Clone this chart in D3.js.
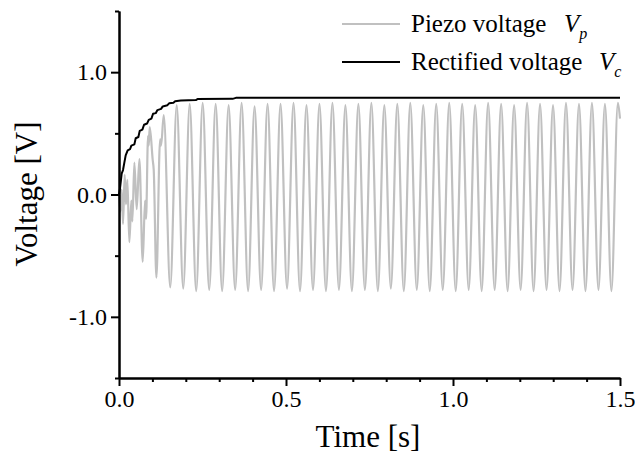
<!DOCTYPE html>
<html>
<head>
<meta charset="utf-8">
<script src="https://cdn.jsdelivr.net/npm/d3@7"></script>
<style>
  html, body { margin: 0; padding: 0; background: #fff; }
  svg { display: block; }
  text { font-family: "Liberation Serif", "Times New Roman", serif; fill: #000; }
</style>
</head>
<body>
<svg id="chart" width="635" height="457"></svg>
<script>
// ---- data ----
const timeTicksMajor = [0.0, 0.5, 1.0, 1.5];
const timeTicksMinor = [0.1, 0.2, 0.3, 0.4, 0.6, 0.7, 0.8, 0.9, 1.1, 1.2, 1.3, 1.4];
const voltTicksMajor = [-1.0, 0.0, 1.0];
const voltTicksMinor = [-1.5, -0.5, 0.5, 1.5];

// Piezo voltage Vp: time [s] and value [V] at its turning points
const piezoTime = [
  0.000, 0.004, 0.008, 0.012, 0.017, 0.021, 0.025, 0.031, 0.037, 0.040,
  0.046, 0.053, 0.061, 0.071, 0.078, 0.081, 0.087, 0.089, 0.092, 0.101,
  0.104, 0.112, 0.123, 0.126, 0.134, 0.1534, 0.1728,
  0.1923, 0.2117, 0.2311, 0.2505, 0.2700, 0.2894, 0.3088, 0.3282, 0.3477, 0.3671,
  0.3865, 0.4059, 0.4254, 0.4448, 0.4642, 0.4836, 0.5031, 0.5225, 0.5419, 0.5613,
  0.5808, 0.6002, 0.6196, 0.6390, 0.6585, 0.6779, 0.6973, 0.7167, 0.7362, 0.7556,
  0.7750, 0.7944, 0.8139, 0.8333, 0.8527, 0.8721, 0.8916, 0.9110, 0.9304, 0.9498,
  0.9693, 0.9887, 1.0081, 1.0275, 1.0470, 1.0664, 1.0858, 1.1052, 1.1247, 1.1441,
  1.1635, 1.1829, 1.2024, 1.2218, 1.2412, 1.2606, 1.2801, 1.2995, 1.3189, 1.3383,
  1.3578, 1.3772, 1.3966, 1.4160, 1.4355, 1.4549, 1.4743, 1.4937, 1.5000
];
const piezoVolt = [
  0.00, -0.14, 0.04, -0.24, 0.16, -0.08, 0.12, -0.39, -0.05, -0.22,
  0.26, -0.12, 0.29, -0.55, -0.05, -0.20, 0.48, 0.40, 0.55, 0.28,
  0.20, -0.68, 0.45, 0.40, 0.65, -0.76, 0.73,
  -0.77, 0.74, -0.79, 0.75, -0.78, 0.74, -0.79, 0.73, -0.78, 0.75,
  -0.79, 0.72, -0.78, 0.74, -0.79, 0.74, -0.77, 0.75, -0.79, 0.73,
  -0.78, 0.74, -0.79, 0.75, -0.78, 0.73, -0.79, 0.74, -0.78, 0.75,
  -0.79, 0.73, -0.77, 0.74, -0.79, 0.75, -0.78, 0.73, -0.79, 0.74,
  -0.78, 0.75, -0.79, 0.74, -0.78, 0.73, -0.79, 0.75, -0.78, 0.74,
  -0.79, 0.73, -0.78, 0.75, -0.79, 0.74, -0.78, 0.73, -0.79, 0.75,
  -0.78, 0.74, -0.79, 0.75, -0.78, 0.74, -0.79, 0.75, 0.62
];

// Rectified voltage Vc: staircase charging curve
const rectTime = [
  0.000, 0.003, 0.008, 0.012, 0.016, 0.020, 0.026, 0.033, 0.037, 0.046,
  0.050, 0.058, 0.062, 0.070, 0.075, 0.084, 0.089, 0.097, 0.102, 0.110,
  0.115, 0.126, 0.131, 0.145, 0.150, 0.163, 0.168, 0.185, 0.230, 0.235,
  0.340, 0.350, 1.500
];
const rectVolt = [
  0.00, 0.05, 0.17, 0.20, 0.26, 0.32, 0.36, 0.37, 0.40, 0.41,
  0.46, 0.47, 0.52, 0.53, 0.57, 0.58, 0.61, 0.62, 0.66, 0.665,
  0.69, 0.70, 0.72, 0.73, 0.745, 0.75, 0.762, 0.768, 0.772, 0.78,
  0.782, 0.79, 0.79
];

const legendLabels = ["Piezo voltage", "Rectified voltage"];
const legendSymbols = ["p", "c"];

// ---- layout ----
const svg = d3.select("#chart");
const x = d3.scaleLinear().domain([0, 1.5]).range([119, 620]);
const y = d3.scaleLinear().domain([-1.5, 1.5]).range([378, 11]);
const fmt = d => d.toFixed(1);
const serif = "'Liberation Serif', 'Times New Roman', serif";

const piezo = piezoTime.map((t, i) => [t, piezoVolt[i]]);
const rect = rectTime.map((t, i) => [t, rectVolt[i]]);

svg.append("path")
  .attr("d", d3.line().x(d => x(d[0])).y(d => y(d[1])).curve(d3.curveMonotoneX)(piezo))
  .attr("fill", "none").attr("stroke", "#c0c0c0").attr("stroke-width", 2.2)
  .attr("stroke-linejoin", "round");

svg.append("path")
  .attr("d", d3.line().x(d => x(d[0])).y(d => y(d[1]))(rect))
  .attr("fill", "none").attr("stroke", "#000").attr("stroke-width", 2)
  .attr("stroke-linejoin", "round");

// axes
function styleAxis(g) {
  g.attr("font-family", serif).attr("font-size", 24);
  g.select(".domain").attr("stroke", "#000").attr("stroke-width", 2);
  g.selectAll(".tick line").attr("stroke", "#000").attr("stroke-width", 2);
  g.selectAll(".tick text").style("font-family", serif).style("font-size", "24px").attr("fill", "#000");
}

svg.append("g").attr("transform", `translate(0,${y(-1.5)})`)
  .call(d3.axisBottom(x).tickValues(timeTicksMinor).tickSize(4).tickSizeOuter(0).tickFormat(""))
  .call(styleAxis);
svg.append("g").attr("transform", `translate(0,${y(-1.5)})`)
  .call(d3.axisBottom(x).tickValues(timeTicksMajor).tickSize(8).tickSizeOuter(0).tickPadding(4).tickFormat(fmt))
  .call(styleAxis);

svg.append("g").attr("transform", `translate(${x(0)},0)`)
  .call(d3.axisLeft(y).tickValues(voltTicksMinor).tickSize(4).tickSizeOuter(0).tickFormat(""))
  .call(styleAxis);
svg.append("g").attr("transform", `translate(${x(0)},0)`)
  .call(d3.axisLeft(y).tickValues(voltTicksMajor).tickSize(8).tickSizeOuter(0).tickPadding(4).tickFormat(fmt))
  .call(styleAxis);

// axis titles
svg.append("text").attr("x", 368).attr("y", 447).attr("text-anchor", "middle")
  .attr("font-size", 31).text("Time [s]");
svg.append("text").attr("transform", `translate(37,194) rotate(-90)`).attr("text-anchor", "middle")
  .attr("font-size", 31).text("Voltage [V]");

// legend
const legendColors = ["#c0c0c0", "#000"];
const legendY = [24, 62];
const legendSymX = [564, 599];
legendLabels.forEach((lab, i) => {
  svg.append("line").attr("x1", 342).attr("x2", 400).attr("y1", legendY[i]).attr("y2", legendY[i])
    .attr("stroke", legendColors[i]).attr("stroke-width", 2);
  svg.append("text").attr("x", 411).attr("y", legendY[i] + 8).attr("font-size", 25).text(lab);
  const s = svg.append("text").attr("x", legendSymX[i]).attr("y", legendY[i] + 8).attr("font-size", 25)
    .attr("font-style", "italic");
  s.append("tspan").text("V");
  s.append("tspan").attr("font-size", 16).attr("dy", 7).text(legendSymbols[i]);
});
</script>
</body>
</html>
